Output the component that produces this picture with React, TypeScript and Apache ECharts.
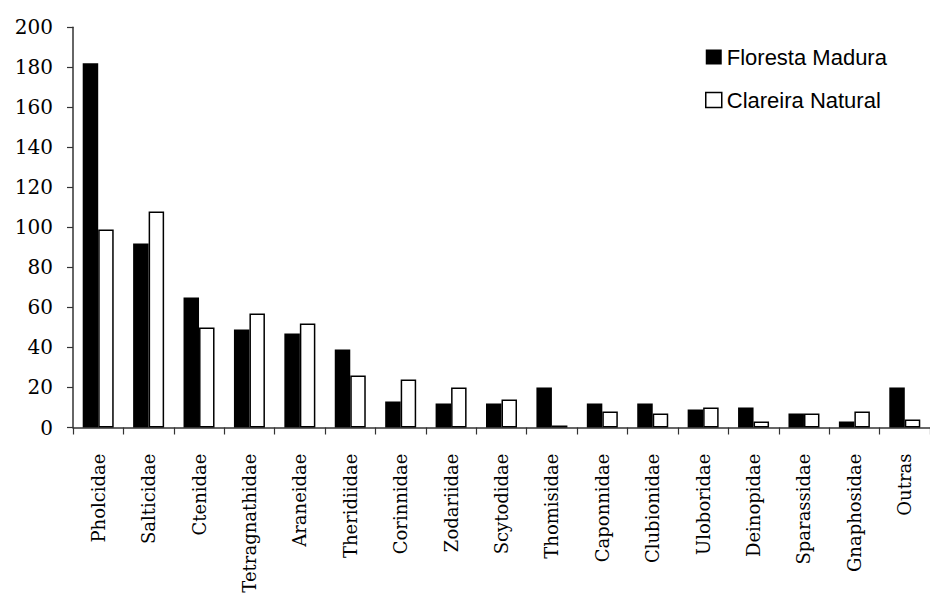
import React, { useEffect, useRef } from "react";
import * as echarts from "echarts";

const categories = [
  "Pholcidae", "Salticidae", "Ctenidae", "Tetragnathidae", "Araneidae", "Theridiidae",
  "Corinnidae", "Zodariidae", "Scytodidae", "Thomisidae", "Caponnidae", "Clubionidae",
  "Uloboridae", "Deinopidae", "Sparassidae", "Gnaphosidae", "Outras",
];
const florestaMadura = [182, 92, 65, 49, 47, 39, 13, 12, 12, 20, 12, 12, 9, 10, 7, 3, 20];
const clareiraNatural = [99, 108, 50, 57, 52, 26, 24, 20, 14, 1, 8, 7, 10, 3, 7, 8, 4];
const seriesNames = ["Floresta Madura", "Clareira Natural"];

export default function App() {
  const ref = useRef<HTMLDivElement>(null);
  useEffect(() => {
    if (!ref.current) return;
    const chart = echarts.init(ref.current, undefined, { renderer: "svg" });
    chart.setOption({
      animation: false,
      backgroundColor: "#ffffff",
      grid: { left: 73, top: 27.3, width: 863, bottom: 171.5, containLabel: false },
      legend: {
        orient: "vertical",
        left: 700,
        top: 41,
        itemGap: 21,
        itemWidth: 16,
        itemHeight: 15,
        icon: "rect",
        textStyle: { fontFamily: "Liberation Sans", fontSize: 22, color: "#000", lineHeight: 22 },
        data: [
          { name: seriesNames[0], itemStyle: { color: "#000", borderWidth: 0 } },
          { name: seriesNames[1], itemStyle: { color: "#fff", borderColor: "#000", borderWidth: 1.5 } },
        ],
      },
      xAxis: {
        type: "category",
        data: categories,
        axisLine: { lineStyle: { color: "#333", width: 1.5 } },
        axisTick: { show: true, length: 7, lineStyle: { color: "#333", width: 1.2 } },
        axisLabel: {
          rotate: 90,
          margin: 26,
          interval: 0,
          fontFamily: "DejaVu Serif",
          fontSize: 18,
          color: "#000",
        },
      },
      yAxis: {
        type: "value",
        min: 0,
        max: 200,
        interval: 20,
        axisLine: { show: true, lineStyle: { color: "#333", width: 1.5 } },
        axisTick: { show: true, length: 6, lineStyle: { color: "#333", width: 1.2 } },
        splitLine: { show: false },
        axisLabel: {
          margin: 20,
          fontFamily: "DejaVu Serif",
          fontSize: 20,
          color: "#000",
        },
      },
      series: [
        {
          name: seriesNames[0],
          type: "bar",
          data: florestaMadura,
          barWidth: 15.5,
          barGap: "0%",
          itemStyle: { color: "#000" },
        },
        {
          name: seriesNames[1],
          type: "bar",
          data: clareiraNatural,
          barWidth: 15.5,
          barGap: "0%",
          itemStyle: { color: "#fff", borderColor: "#000", borderWidth: 1.5 },
        },
      ],
    });
    return () => chart.dispose();
  }, []);
  return (
    <div
      ref={ref}
      style={{ position: "absolute", left: 0, top: 0, width: 930, height: 599 }}
    />
  );
}
